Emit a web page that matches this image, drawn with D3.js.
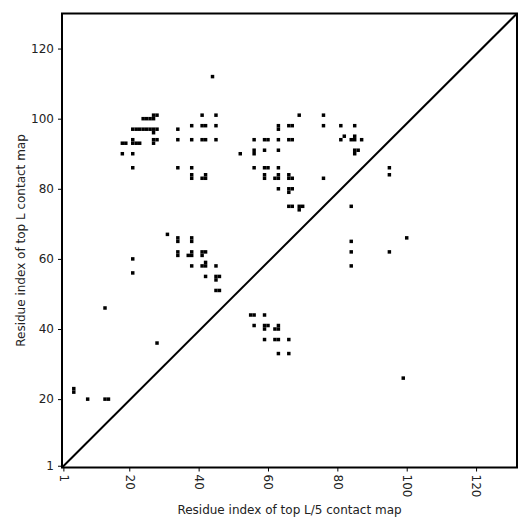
<!DOCTYPE html>
<html>
<head>
<meta charset="utf-8">
<script src="https://cdn.jsdelivr.net/npm/d3@7"></script>
<style>
  body { margin: 0; background: #fff; }
  text { font-family: "DejaVu Sans", sans-serif; }
</style>
</head>
<body>
<div id="chart"></div>
<script>
// Contact pairs: [residue on x (top L/5), residue on y (top L)]
var contacts = [
  [4,22],[4,23],[8,20],[13,20],[14,20],[13,46],[28,36],
  [18,93],[19,93],[21,94],[21,93],[22,93],[23,93],[27,94],[27,93],[28,94],[34,94],
  [24,100],[25,100],[26,100],[27,100],[27,101],[28,101],
  [21,97],[22,97],[23,97],[24,97],[25,97],[26,97],[27,97],[27,96],[28,97],[34,97],
  [18,90],[21,90],[21,86],[34,86],
  [44,112],[41,101],[45,101],[69,101],
  [38,98],[41,98],[42,98],[45,98],[63,98],[63,97],[66,98],[67,98],
  [38,94],[41,94],[42,94],[45,94],[56,94],[59,94],[60,94],[63,94],[66,94],[67,94],
  [52,90],[56,91],[56,90],[59,91],[63,91],
  [38,86],[56,86],[59,86],[60,86],[63,86],
  [38,84],[38,83],[41,83],[42,83],[42,84],[59,84],[59,83],[62,83],[63,83],[63,84],[66,84],[66,83],[67,83],
  [76,101],[76,98],[81,98],[85,98],[81,94],[82,95],[84,94],[85,94],[85,95],[87,94],
  [85,91],[86,91],[85,90],[95,86],[95,84],[76,83],
  [31,67],[34,66],[34,65],[34,62],[34,61],[21,60],[21,56],
  [63,80],[66,80],[67,80],[66,79],[66,75],[67,75],[69,75],[69,74],[70,75],
  [38,66],[38,65],[38,62],[38,61],[37,61],[41,62],[42,62],[41,61],
  [38,58],[42,59],[42,58],[41,58],[45,58],[42,55],[45,55],[46,55],[45,54],[45,51],[46,51],
  [55,44],[56,44],[59,44],[56,41],[59,41],[60,41],[59,40],[63,41],[62,40],[63,40],
  [59,37],[62,37],[63,37],[66,37],[63,33],[66,33],
  [84,75],[84,65],[84,62],[84,58],[100,66],[95,62],[99,26]
];

var tickValues = [1, 20, 40, 60, 80, 100, 120];
var xDomain = [0.6, 131.8];
var yDomain = [0.5, 130];
var xTitle = "Residue index of top L/5 contact map";
var yTitle = "Residue index of top L contact map";

var svgWidth = 531;
var svgHeight = 531;

var margin = {
    top: 13.5,
    right: 14,
    bottom: 63.5,
    left: 62
};

var width = svgWidth - margin.left - margin.right;
var height = svgHeight - margin.top - margin.bottom;

var svg = d3.select("#chart")
  .append("svg")
  .attr("width", svgWidth)
  .attr("height", svgHeight);

var chartGroup = svg.append("g")
    .attr("transform", `translate(${margin.left}, ${margin.top})`);

// Scales
var xScale = d3.scaleLinear()
    .domain(xDomain)
    .range([0, width]);

var yScale = d3.scaleLinear()
    .domain(yDomain)
    .range([height, 0]);

// Contact cells
chartGroup.selectAll("rect.cell")
    .data(contacts)
    .enter()
    .append("rect")
    .attr("class", "cell")
    .attr("x", d => xScale(d[0] - 0.5))
    .attr("y", d => yScale(d[1] + 0.5))
    .attr("width", d => xScale(d[0] + 0.5) - xScale(d[0] - 0.5))
    .attr("height", d => yScale(d[1] - 0.5) - yScale(d[1] + 0.5))
    .attr("fill", "black");

// Diagonal
chartGroup.append("line")
    .attr("x1", xScale(xDomain[0]))
    .attr("y1", yScale(yDomain[0]))
    .attr("x2", xScale(xDomain[1]))
    .attr("y2", yScale(yDomain[1]))
    .attr("stroke", "black")
    .attr("stroke-width", 2);

// Axes
var bottomAxis = d3.axisBottom(xScale)
    .tickValues(tickValues)
    .tickSize(4)
    .tickPadding(3);
var leftAxis = d3.axisLeft(yScale)
    .tickValues(tickValues)
    .tickSize(4)
    .tickPadding(4);

var xAxisG = chartGroup.append("g")
    .attr("transform", `translate(0, ${height})`)
    .call(bottomAxis);

xAxisG.selectAll("text")
    .attr("transform", "rotate(90)")
    .attr("x", 7)
    .attr("y", 0)
    .attr("dy", "0.35em")
    .style("text-anchor", "start");

var yAxisG = chartGroup.append("g")
    .call(leftAxis);

[xAxisG, yAxisG].forEach(function(g) {
    g.select(".domain").remove();
    g.selectAll("line").attr("stroke", "black").attr("stroke-width", 1);
    g.selectAll("text")
      .attr("fill", "#222")
      .style("font-size", "12px")
      .style("font-family", "DejaVu Sans, sans-serif");
});

// Frame
chartGroup.append("rect")
    .attr("x", 0)
    .attr("y", 0)
    .attr("width", width)
    .attr("height", height)
    .attr("fill", "none")
    .attr("stroke", "black")
    .attr("stroke-width", 2);

// Axis titles
svg.append("text")
    .attr("x", margin.left + width / 2)
    .attr("y", 514)
    .attr("text-anchor", "middle")
    .style("font-size", "12px")
    .attr("fill", "#222")
    .text(xTitle);

svg.append("text")
    .attr("transform", `translate(25, ${margin.top + height / 2}) rotate(-90)`)
    .attr("text-anchor", "middle")
    .style("font-size", "12px")
    .attr("fill", "#222")
    .text(yTitle);
</script>
</body>
</html>
